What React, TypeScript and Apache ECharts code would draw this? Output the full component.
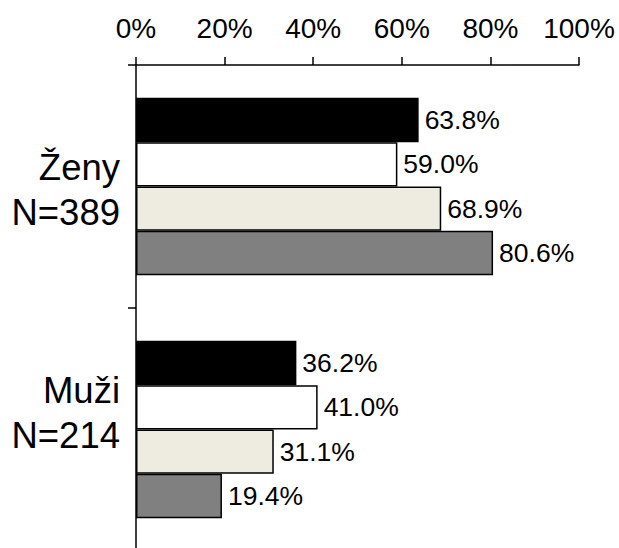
import React, { useEffect, useRef } from "react";
import * as echarts from "echarts";

const categories = ["Ženy\nN=389", "Muži\nN=214"];
const seriesBlack = [63.8, 36.2];
const seriesWhite = [59.0, 41.0];
const seriesBeige = [68.9, 31.1];
const seriesGray = [80.6, 19.4];
const seriesNames = ["A", "B", "C", "D"];
const seriesColors = ["#000000", "#FFFFFF", "#EEEBE1", "#808080"];
const xMin = 0;
const xMax = 100;
const xInterval = 20;

const FONT = 'Arial, "Liberation Sans", sans-serif';

export default function App() {
  const ref = useRef<HTMLDivElement>(null);
  useEffect(() => {
    if (!ref.current) return;
    const chart = echarts.init(ref.current, null, { renderer: "svg" });
    const values = [seriesBlack, seriesWhite, seriesBeige, seriesGray];
    chart.setOption({
      animation: false,
      backgroundColor: "#ffffff",
      grid: { left: 136, top: 65, width: 443, height: 486, containLabel: false },
      xAxis: {
        type: "value",
        position: "top",
        min: xMin,
        max: xMax,
        interval: xInterval,
        splitLine: { show: false },
        axisLine: { show: true, lineStyle: { color: "#000", width: 1.5 } },
        axisTick: { show: true, length: 8, lineStyle: { color: "#000", width: 1.5 } },
        axisLabel: {
          formatter: "{value}%",
          fontSize: 28,
          fontFamily: FONT,
          color: "#000",
          margin: 23,
        },
      },
      yAxis: {
        type: "category",
        data: categories,
        inverse: true,
        axisLine: { show: true, lineStyle: { color: "#000", width: 1.5 } },
        axisTick: { show: true, length: 8, lineStyle: { color: "#000", width: 1.5 } },
        axisLabel: {
          margin: 16,
          align: "right",
          color: "#000",
          fontFamily: FONT,
          formatter: (v: string, i: number) => {
            const [a, b] = v.split("\n");
            return i === 0
              ? `{s0| }\n{t|${a}}\n{t|${b}}`
              : `{t|${a}}\n{t|${b}}\n{s1| }`;
          },
          rich: {
            t: { fontSize: 36.5, lineHeight: 45, fontFamily: FONT, color: "#000", align: "right" },
            s0: { fontSize: 1, lineHeight: 7 },
            s1: { fontSize: 1, lineHeight: 33 },
          },
        },
      },
      series: values.map((d, k) => ({
        name: seriesNames[k],
        type: "bar",
        data: d,
        barGap: "0%",
        barCategoryGap: "27%",
        itemStyle: { color: seriesColors[k], borderColor: "#000", borderWidth: 1.5 },
        label: {
          show: true,
          position: "right",
          distance: 6,
          fontSize: 26.5,
          fontFamily: FONT,
          color: "#000",
          formatter: (p: any) => `${Number(p.value).toFixed(1)}%`,
        },
      })),
    });
    return () => chart.dispose();
  }, []);
  return (
    <div
      style={{
        position: "absolute",
        left: 0,
        top: 0,
        width: 619,
        height: 548,
        overflow: "hidden",
        background: "#fff",
      }}
    >
      <div ref={ref} style={{ width: 619, height: 570 }} />
    </div>
  );
}
